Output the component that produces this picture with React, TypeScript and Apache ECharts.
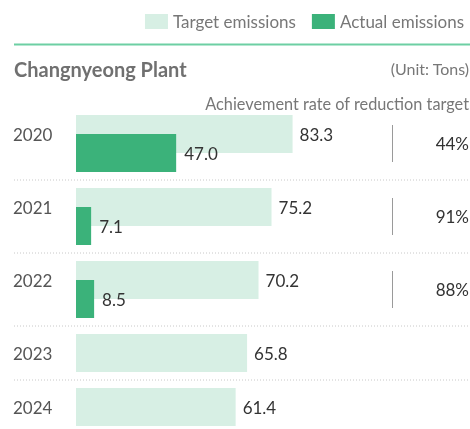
import React, { useEffect, useRef } from "react";
import * as echarts from "echarts";

const years = ["2020", "2021", "2022", "2023", "2024"];
const targets = [83.3, 75.2, 70.2, 65.8, 61.4];
const actuals = [47.0, 7.1, 8.5];
const rates = [44, 91, 88];

const LIGHT = "#d7efe4";
const DARK = "#3bb27a";
const FONT = "Lato, 'Noto Sans', sans-serif";

export default function App() {
  const ref = useRef<HTMLDivElement>(null);
  useEffect(() => {
    if (!ref.current) return;
    const chart = echarts.init(ref.current, undefined, { renderer: "svg" });
    const n1 = actuals.length;
    const yearLabel = {
      align: "left" as const,
      margin: 63,
      fontSize: 17,
      color: "#555",
      fontFamily: FONT,
    };
    const sepLines = [180, 253, 326, 380].map((y) => ({
      type: "line",
      shape: { x1: 14, y1: y, x2: 470, y2: y },
      style: { stroke: "#c8c8c8", lineWidth: 1, lineDash: [1, 2] },
      silent: true,
    }));
    chart.setOption({
      animation: false,
      textStyle: { fontFamily: FONT },
      legend: {
        right: 1,
        top: 8,
        itemWidth: 23,
        itemHeight: 15,
        itemGap: 16,
        icon: "rect",
        selectedMode: false,
        textStyle: { fontSize: 17, color: "#777", fontFamily: FONT },
        data: ["Target emissions", "Actual emissions"],
      },
      graphic: [
        {
          type: "line",
          shape: { x1: 14, y1: 44.5, x2: 470, y2: 44.5 },
          style: { stroke: "#6dcfa3", lineWidth: 2 },
        },
        {
          type: "text",
          x: 14,
          y: 69,
          style: {
            text: "Changnyeong Plant",
            fontSize: 20,
            fontWeight: "bold",
            fill: "#707070",
            fontFamily: FONT,
            verticalAlign: "middle",
          },
        },
        {
          type: "text",
          x: 469,
          y: 68,
          style: {
            text: "(Unit: Tons)",
            fontSize: 16,
            fill: "#777",
            fontFamily: FONT,
            align: "right",
            verticalAlign: "middle",
          },
        },
        {
          type: "text",
          x: 469,
          y: 103,
          style: {
            text: "Achievement rate of reduction target",
            fontSize: 16.3,
            fill: "#777",
            fontFamily: FONT,
            align: "right",
            verticalAlign: "middle",
          },
        },
        ...sepLines,
      ],
      grid: [
        { left: 76, width: 260, top: 107, height: 219, outerBoundsMode: "none", containLabel: false },
        { left: 76, width: 260, top: 326, height: 108, outerBoundsMode: "none", containLabel: false },
      ],
      xAxis: [
        { type: "value", gridIndex: 0, min: 0, max: 100, show: false },
        // NOTE: the reference draws actual-emissions bars shorter than the
        // target scale would give (47.0 is about as long as 38 would be on the
        // target axis). To match the picture, actual bars use their own hidden
        // axis (max 122) instead of sharing the target axis (max 100). Set
        // this max to 100 if both bar types should share one scale.
        { type: "value", gridIndex: 0, min: 0, max: 122, show: false },
        { type: "value", gridIndex: 1, min: 0, max: 100, show: false },
      ],
      yAxis: [
        {
          type: "category",
          gridIndex: 0,
          inverse: true,
          data: years.slice(0, n1),
          axisLine: { show: false },
          axisTick: { show: false },
          axisLabel: { ...yearLabel, verticalAlign: "bottom", lineHeight: 18 },
        },
        {
          type: "category",
          gridIndex: 0,
          inverse: true,
          position: "right",
          data: years.slice(0, n1),
          axisLine: { show: false },
          axisTick: { show: false },
          axisLabel: {
            align: "right",
            margin: 133,
            formatter: (_v: string, i: number) => `{sep|}{pct|${rates[i]}%}`,
            rich: {
              sep: { width: 1, height: 37, backgroundColor: "#9a9a9a" },
              pct: {
                width: 76,
                align: "right",
                fontSize: 17,
                color: "#333",
                fontFamily: FONT,
              },
            },
          },
        },
        {
          type: "category",
          gridIndex: 1,
          inverse: true,
          data: years.slice(n1),
          axisLine: { show: false },
          axisTick: { show: false },
          axisLabel: yearLabel,
        },
      ],
      series: [
        {
          name: "Target emissions",
          type: "bar",
          xAxisIndex: 0,
          yAxisIndex: 0,
          data: targets.slice(0, n1),
          barWidth: 38,
          barGap: "-50%",
          itemStyle: { color: LIGHT },
          label: {
            show: true,
            position: "right",
            distance: 7,
            fontSize: 17,
            color: "#333",
            fontFamily: FONT,
            formatter: (p: any) => Number(p.value).toFixed(1),
          },
        },
        {
          name: "Actual emissions",
          type: "bar",
          xAxisIndex: 1,
          yAxisIndex: 0,
          data: actuals,
          barWidth: 38,
          barGap: "-50%",
          itemStyle: { color: DARK },
          label: {
            show: true,
            position: "right",
            distance: 8,
            fontSize: 17,
            color: "#333",
            fontFamily: FONT,
            formatter: (p: any) => Number(p.value).toFixed(1),
          },
        },
        {
          name: "Target emissions",
          type: "bar",
          xAxisIndex: 2,
          yAxisIndex: 2,
          data: targets.slice(n1),
          barWidth: 38,
          itemStyle: { color: LIGHT },
          label: {
            show: true,
            position: "right",
            distance: 7,
            fontSize: 17,
            color: "#333",
            fontFamily: FONT,
            formatter: (p: any) => Number(p.value).toFixed(1),
          },
        },
      ],
    });
    return () => chart.dispose();
  }, []);
  return (
    <div
      ref={ref}
      style={{ position: "fixed", left: 0, top: 0, width: 470, height: 429 }}
    />
  );
}
